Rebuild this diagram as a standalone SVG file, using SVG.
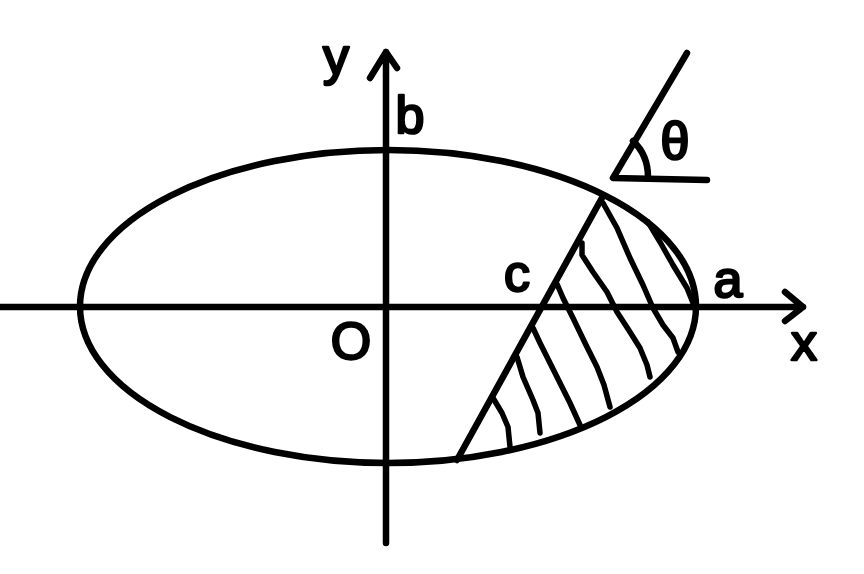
<svg xmlns="http://www.w3.org/2000/svg" width="864" height="574" viewBox="0 0 864 574">
  <style>
    .s { fill: none; stroke: #000; stroke-width: 6.5; stroke-linecap: round; stroke-linejoin: round; }
    .h { fill: none; stroke: #000; stroke-width: 5.5; stroke-linecap: round; stroke-linejoin: round; }
    .t { font-family: "Liberation Sans", "DejaVu Sans", sans-serif; font-size: 52px; fill: #000; stroke: #000; stroke-width: 2.5; stroke-linejoin: round; text-anchor: middle; }
  </style>
  <rect width="864" height="574" fill="#fff"/>
  <g id="axes">
    <path class="s" d="M0,307 L803,307 M785,292 L803,307 L785,321"/>
    <path class="s" d="M386,543 L386,52 M370,78 L386,52 L397,68"/>
  </g>
  <g id="ellipse">
    <ellipse class="s" cx="388" cy="306.5" rx="308" ry="156.5"/>
  </g>
  <g id="chord">
    <path class="s" d="M457,460 L603,196"/>
  </g>
  <g id="hatching">
    <polyline class="h" points="648,222 660,242 673,265 687,288 693,303"/>
    <polyline class="h" points="603,203 617,228 630,258 643,285 653,308 663,325 673,338 678,352"/>
    <polyline class="h" points="582,243 582,255 593,272 607,292 617,312 630,332 640,348 647,365 650,377"/>
    <polyline class="h" points="557,284 563,298 573,318 586,345 597,367 604,385 610,407"/>
    <polyline class="h" points="533,328 540,343 550,363 560,383 570,403 580,425"/>
    <polyline class="h" points="517,357 523,377 533,400 538,413 540,433"/>
    <polyline class="h" points="493,398 502,413 508,427 510,447"/>
  </g>
  <g id="angle">
    <path class="s" d="M687,53 L613,178 L707,180"/>
    <path class="s" d="M633,141 Q648,155 648,177"/>
  </g>
  <g id="labels">
    <text class="t" x="336" y="74" font-size="56">y</text>
    <text class="t" x="410" y="133">b</text>
    <text class="t" x="517" y="291">c</text>
    <text class="t" x="728" y="297">a</text>
    <text class="t" x="804" y="360">x</text>
    <text class="t" x="351" y="359" font-size="48">O</text>
    <text class="t" x="675" y="159">θ</text>
  </g>
</svg>
